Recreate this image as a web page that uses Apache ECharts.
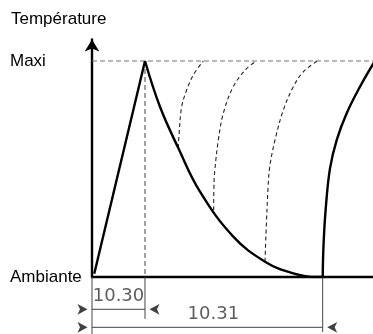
<!DOCTYPE html>
<html>
<head>
<meta charset="utf-8">
<script src="https://cdn.jsdelivr.net/npm/echarts@6/dist/echarts.min.js"></script>
<style>html,body{margin:0;padding:0;background:#fff}#c{width:373px;height:334px}</style>
</head>
<body>
<div id="c"></div>
<script>
// ---- data (time in arbitrary units 0..100, temperature 0 = Ambiante, 100 = Maxi) ----
const yLabels = { 0: 'Ambiante', 100: 'Maxi' };
const axisTitle = 'Température';
const maxiLevel = 100;
const peakTime = 18.86;
const rise = [[0.8, 1.5], [18.86, 100]];
const decay = [[18.86, 100], [24.2, 78.8], [30.71, 59.7], [38.43, 39.5], [50.28, 18.7],
  [61.57, 7.1], [71.64, 1.7], [80, 0], [82.1, 0]];
const branch1 = [[30.71, 59.7], [31.0, 66.5], [31.9, 78.8], [33.7, 86.6], [36.05, 93.5], [39.6, 100]];
const branch2 = [[43.3, 31.0], [43.42, 43.5], [43.77, 50.3], [44.95, 63.4], [46.73, 75.8], [50.28, 88.1], [55.0, 96.5], [58.6, 100]];
const branch3 = [[61.57, 7.1], [61.92, 20.2], [62.74, 43.4], [63.35, 51.9], [65.12, 63.4], [68.08, 77.3], [71.64, 88.1], [75.2, 95.0], [80.2, 100]];
const reheat = [[82.1, 0], [82.4, 15], [83.2, 32], [84.7, 50.3], [87.08, 63.4], [90.64, 75.8], [95.37, 88.1], [100.5, 99.6]];
const dimLabels = ['10.30', '10.31'];
const dimEnds = [18.86, 82.1];
const dimLevels = [-14.95, -23.3];
const extXs = [0, 18.86, 82.1];
const extBottoms = [-26.4, -19.4, -25.5]; // extension lines below the baseline

const arrowHalf = 1.6;
const thin = { color: '#444', width: 1, type: 'solid' };
const seg = (a, b) => ({ type: 'line', data: [a, b], showSymbol: false, symbol: 'none', clip: false,
  lineStyle: thin, silent: true, z: 2 });
const annot = [];
extXs.forEach((x, i) => annot.push(seg([x, 0], [x, extBottoms[i]])));
dimEnds.forEach((e, i) => annot.push(seg([0, dimLevels[i]], [e, dimLevels[i]])));
const labelOffsets = [[0, 0], [6, 0]];
const dimText = dimEnds.map((e, i) => ({ value: [e / 2, dimLevels[i]],
  label: { formatter: dimLabels[i], offset: labelOffsets[i] } }));
const arrows = [];
dimEnds.forEach((e, i) => {
  arrows.push({ value: [0 - arrowHalf, dimLevels[i]], symbolRotate: -90 });
  arrows.push({ value: [e + arrowHalf, dimLevels[i]], symbolRotate: 90 });
});

const solid = (data) => ({ type: 'line', data, showSymbol: false, symbol: 'none', smooth: 0.4,
  lineStyle: { color: '#000', width: 2.4 }, z: 3, silent: true });
const dashed = (data) => ({ type: 'line', data, showSymbol: false, symbol: 'none', smooth: 0.35,
  lineStyle: { color: '#222', width: 1.1, type: [4, 3] }, z: 2, silent: true });

const chart = echarts.init(document.getElementById('c'), null, { renderer: 'canvas' });
chart.setOption({
  animation: false,
  backgroundColor: '#fff',
  title: { text: axisTitle, left: 11, top: 11, padding: 0,
    textStyle: { fontSize: 17, fontWeight: 'normal', color: '#000', fontFamily: 'Liberation Sans' } },
  grid: { left: 92, right: 0, top: 39.4, bottom: 57 },
  xAxis: { type: 'value', min: 0, max: 100, axisLine: { show: true, onZero: false, lineStyle: { color: '#000', width: 2.4 } },
    axisTick: { show: false }, axisLabel: { show: false }, splitLine: { show: false } },
  yAxis: { type: 'value', min: 0, max: 110, interval: 100,
    axisLine: { show: true, symbol: ['none', 'arrow'], symbolSize: [11, 12], lineStyle: { color: '#000', width: 2.4 } },
    axisTick: { show: false }, splitLine: { show: false },
    axisLabel: { show: true, align: 'left', margin: 82, showMaxLabel: false, color: '#000', fontSize: 17, fontFamily: 'Liberation Sans',
      formatter: v => yLabels[v] || '' } },
  series: [
    { ...solid(rise), smooth: false },
    solid(decay),
    dashed(branch1), dashed(branch2), dashed(branch3),
    solid(reheat),
    { type: 'line', data: [[0, maxiLevel], [100, maxiLevel]], showSymbol: false, symbol: 'none',
      lineStyle: { color: '#777', width: 1.1, type: [5, 3] }, z: 1, silent: true },
    { type: 'line', data: [[peakTime, maxiLevel], [peakTime, 0]], showSymbol: false, symbol: 'none',
      lineStyle: { color: '#555', width: 1.1, type: [5, 3] }, z: 1, silent: true },
    ...annot,
    { type: 'scatter', data: dimText, clip: false, symbolSize: 1, itemStyle: { color: 'rgba(0,0,0,0)' }, silent: true,
      label: { show: true, position: 'top', distance: 3, color: '#333', fontSize: 18, fontFamily: 'DejaVu Sans' } },
    { type: 'scatter', data: arrows, clip: false, symbol: 'arrow', symbolSize: [8, 10],
      itemStyle: { color: '#111' }, silent: true, z: 5 }
  ]
});
</script>
</body>
</html>
